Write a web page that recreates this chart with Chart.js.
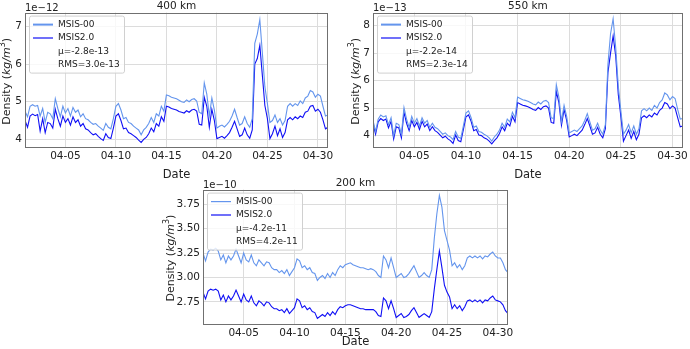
<!DOCTYPE html>
<html>
<head>
<meta charset="utf-8">
<script src="https://cdn.jsdelivr.net/npm/chart.js"></script>
<style>
body { margin: 0; background: #fff; width: 690px; height: 349px; overflow: hidden; position: relative; }
canvas { position: absolute; }
</style>
</head>
<body>
<canvas id="c400" width="340" height="182" style="left:0px;top:0px"></canvas>
<canvas id="c550" width="345" height="182" style="left:345px;top:0px"></canvas>
<canvas id="c200" width="360" height="172" style="left:160px;top:177px"></canvas>
<script>
// samples every 6 hours, starting 04-01 00:00
const stepDays = 0.25;
const xTickDays = [4, 9, 14, 19, 24, 29];
const xTickLabels = ['04-05', '04-10', '04-15', '04-20', '04-25', '04-30'];

// 400 km, units of 1e-12 kg/m3
const msis00_400 = [
    4.75, 4.60, 4.88, 4.92, 4.88, 4.90, 4.62, 4.82,
    4.45, 4.72, 4.68, 4.55, 5.08, 4.82, 4.60, 4.88,
    4.70, 4.82, 4.62, 4.85, 4.72, 4.78, 4.60, 4.68,
    4.55, 4.52, 4.45, 4.40, 4.42, 4.35, 4.30, 4.24,
    4.42, 4.32, 4.28, 4.55, 4.88, 4.95, 4.78, 4.55,
    4.58, 4.45, 4.42, 4.35, 4.30, 4.25, 4.12, 4.25,
    4.32, 4.42, 4.58, 4.45, 4.68, 4.62, 4.88, 4.75,
    5.18, 5.16, 5.12, 5.10, 5.08, 5.04, 5.00, 4.98,
    5.05, 5.00, 5.06, 5.08, 5.02, 4.72, 4.68, 5.50,
    5.20, 4.62, 5.10, 4.78, 4.30, 4.35, 4.38, 4.33,
    4.40, 4.48, 4.62, 4.80, 4.58, 4.38, 4.42, 4.60,
    4.42, 4.32, 4.55, 6.55, 6.80, 7.18, 6.30, 5.40,
    4.95, 4.45, 4.50, 4.65, 4.45, 4.55, 4.38, 4.50,
    4.88, 4.95, 4.88, 4.95, 4.90, 5.02, 4.95, 5.10,
    5.15, 5.30, 5.26, 5.12, 5.20, 5.15, 4.88, 4.62,
    4.65
];
const msis20_400 = [
    4.50, 4.32, 4.62, 4.67, 4.63, 4.66, 4.22, 4.55,
    4.18, 4.45, 4.42, 4.30, 4.80, 4.55, 4.35, 4.62,
    4.45, 4.55, 4.38, 4.60, 4.45, 4.52, 4.35, 4.42,
    4.28, 4.25, 4.18, 4.12, 4.15, 4.08, 4.02, 3.97,
    4.15, 4.05, 4.02, 4.30, 4.62, 4.68, 4.50, 4.28,
    4.30, 4.18, 4.15, 4.10, 4.05, 3.98, 3.92, 4.00,
    4.05, 4.15, 4.30, 4.20, 4.42, 4.35, 4.60, 4.48,
    4.88, 4.86, 4.82, 4.80, 4.78, 4.74, 4.72, 4.70,
    4.76, 4.72, 4.78, 4.80, 4.75, 4.40, 4.38, 5.12,
    4.88, 4.32, 4.80, 4.50, 4.02, 4.05, 4.08, 4.03,
    4.10, 4.18, 4.32, 4.48, 4.28, 4.08, 4.12, 4.30,
    4.12, 4.03, 4.25, 6.00, 6.15, 6.50, 5.70, 4.90,
    4.55, 4.02, 4.15, 4.35, 4.10, 4.28, 4.05, 4.18,
    4.52, 4.58, 4.52, 4.60, 4.55, 4.62, 4.58, 4.72,
    4.75, 4.88, 4.90, 4.75, 4.80, 4.72, 4.52, 4.28,
    4.32
];

// 550 km, units of 1e-13 kg/m3
const msis00_550 = [
    4.55, 4.15, 4.60, 4.75, 4.68, 4.72, 4.40, 4.65,
    4.00, 4.45, 4.40, 4.05, 5.02, 4.60, 4.30, 4.70,
    4.45, 4.62, 4.35, 4.65, 4.45, 4.55, 4.30, 4.45,
    4.30, 4.25, 4.15, 4.05, 4.10, 4.00, 3.95, 3.85,
    4.15, 3.95, 3.90, 4.35, 4.82, 4.90, 4.65, 4.30,
    4.35, 4.15, 4.12, 4.05, 4.00, 3.92, 3.80, 3.95,
    4.05, 4.20, 4.45, 4.30, 4.60, 4.50, 4.85, 4.65,
    5.40, 5.35, 5.30, 5.28, 5.25, 5.20, 5.15, 5.12,
    5.22, 5.15, 5.25, 5.28, 5.20, 4.65, 4.62, 5.85,
    5.40, 4.52, 5.10, 4.70, 4.10, 4.15, 4.20, 4.15,
    4.25, 4.35, 4.55, 4.80, 4.50, 4.20, 4.25, 4.45,
    4.20, 4.05, 4.40, 6.60, 7.70, 8.25, 7.20, 5.80,
    4.90, 4.05, 4.20, 4.40, 4.10, 4.35, 4.05, 4.25,
    4.90, 4.98, 4.90, 5.00, 4.92, 5.10, 5.00, 5.20,
    5.30, 5.55, 5.48, 5.30, 5.42, 5.35, 4.95, 4.60,
    4.62
];
const msis20_550 = [
    4.45, 4.05, 4.50, 4.62, 4.55, 4.60, 4.28, 4.52,
    3.88, 4.32, 4.28, 3.92, 4.85, 4.45, 4.18, 4.55,
    4.32, 4.48, 4.22, 4.52, 4.32, 4.42, 4.18, 4.32,
    4.18, 4.12, 4.02, 3.92, 3.98, 3.88, 3.82, 3.72,
    4.02, 3.82, 3.78, 4.22, 4.68, 4.75, 4.52, 4.18,
    4.22, 4.02, 4.00, 3.92, 3.88, 3.80, 3.70, 3.82,
    3.92, 4.08, 4.32, 4.18, 4.45, 4.35, 4.70, 4.50,
    5.20, 5.15, 5.10, 5.08, 5.05, 5.00, 4.95, 4.92,
    5.02, 4.95, 5.05, 5.08, 5.00, 4.48, 4.45, 5.60,
    5.20, 4.38, 4.95, 4.55, 3.95, 4.00, 4.05, 4.00,
    4.10, 4.20, 4.40, 4.62, 4.35, 4.05, 4.10, 4.30,
    4.05, 3.92, 4.25, 6.30, 7.00, 7.62, 6.90, 5.50,
    4.70, 3.80, 4.00, 4.20, 3.90, 4.15, 3.85, 4.05,
    4.65, 4.72, 4.65, 4.75, 4.68, 4.82, 4.75, 4.92,
    5.00, 5.20, 5.15, 4.98, 5.08, 5.00, 4.65, 4.32,
    4.35
];

// 200 km, units of 1e-10 kg/m3
const msis00_200 = [
    3.25, 3.17, 3.26, 3.29, 3.28, 3.30, 3.27, 3.18,
    3.23, 3.15, 3.22, 3.18, 3.22, 3.29, 3.22, 3.15,
    3.25, 3.18, 3.16, 3.23, 3.15, 3.12, 3.18, 3.15,
    3.12, 3.16, 3.15, 3.10, 3.08, 3.08, 3.05, 3.07,
    3.04, 3.08, 3.02, 3.06, 3.10, 3.19, 3.17, 3.10,
    3.12, 3.08, 3.10, 3.05, 3.04, 2.97, 3.00, 3.02,
    2.99, 3.04, 3.00, 3.05, 3.02, 3.08, 3.12, 3.10,
    3.13, 3.14, 3.15, 3.13, 3.12, 3.11, 3.10, 3.10,
    3.09, 3.08, 3.09, 3.08, 3.06, 3.02, 3.00, 3.22,
    3.18, 3.10, 3.20, 3.10, 3.00, 3.02, 3.04, 3.00,
    3.01, 3.04, 3.08, 3.12, 3.06, 3.00, 3.02, 3.05,
    3.02, 3.00, 3.08, 3.40, 3.65, 3.84, 3.72, 3.48,
    3.38, 3.28, 3.12, 3.15, 3.10, 3.13, 3.08, 3.12,
    3.20, 3.22, 3.20, 3.22, 3.20, 3.22, 3.19, 3.22,
    3.21, 3.24, 3.26, 3.22, 3.20, 3.20, 3.15, 3.08,
    3.05
];
const msis20_200 = [
    2.85, 2.78, 2.86, 2.88, 2.87, 2.88, 2.86, 2.77,
    2.82, 2.75, 2.81, 2.77, 2.81, 2.87, 2.81, 2.75,
    2.83, 2.77, 2.75, 2.81, 2.74, 2.71, 2.76, 2.74,
    2.71, 2.75, 2.74, 2.70, 2.68, 2.68, 2.66, 2.67,
    2.64, 2.68, 2.63, 2.66, 2.69, 2.78, 2.76, 2.69,
    2.71, 2.67, 2.69, 2.65, 2.64, 2.58, 2.60, 2.62,
    2.60, 2.64, 2.61, 2.65, 2.62, 2.67, 2.70, 2.69,
    2.71, 2.72, 2.72, 2.71, 2.70, 2.69, 2.68, 2.68,
    2.67, 2.67, 2.67, 2.67, 2.65, 2.61, 2.60, 2.79,
    2.76, 2.68, 2.76, 2.68, 2.59, 2.61, 2.63, 2.59,
    2.60, 2.62, 2.66, 2.69, 2.64, 2.59, 2.61, 2.63,
    2.61, 2.59, 2.65, 2.88, 3.08, 3.27, 3.10, 2.92,
    2.85, 2.80, 2.68, 2.72, 2.68, 2.71, 2.66, 2.70,
    2.76, 2.77, 2.75, 2.77, 2.75, 2.77, 2.74, 2.77,
    2.76, 2.79, 2.81, 2.77, 2.76, 2.75, 2.72, 2.66,
    2.63
];

const yTicks400 = [4, 5, 6, 7];
const yTicks550 = [4, 5, 6, 7, 8];
const yTicks200 = [2.75, 3.00, 3.25, 3.50, 3.75];

const stats400 = ['μ=-2.8e-13', 'RMS=3.0e-13'];
const stats550 = ['μ=-2.2e-14', 'RMS=2.3e-14'];
const stats200 = ['μ=-4.2e-11', 'RMS=4.2e-11'];

const lightBlue = '#6495ed';
const darkBlue = '#1010f5';
const fontName = '"DejaVu Sans"';

Chart.defaults.font.family = fontName;
Chart.defaults.color = '#222';

function toPoints(values) {
    return values.map(function (v, i) { return {x: i * stepDays, y: v}; });
}

// frame, offset text, y label and the legend box
const decorPlugin = {
    id: 'decor',
    afterDatasetsDraw(chart, args, opts) {
        const ctx = chart.ctx;
        const a = chart.chartArea;
        ctx.save();

        // full frame round the plot
        ctx.strokeStyle = '#707070';
        ctx.lineWidth = 1;
        ctx.strokeRect(Math.round(a.left) + 0.5, Math.round(a.top) + 0.5,
            Math.round(a.right - a.left) - 1, Math.round(a.bottom - a.top) - 1);

        // exponent
        ctx.fillStyle = '#222';
        ctx.font = '10px ' + fontName;
        ctx.textAlign = 'left';
        ctx.textBaseline = 'alphabetic';
        ctx.fillText(opts.exponent, a.left, a.top - 2);

        // y label: Density (kg/m^3)
        const parts = [
            ['Density (', '11px ' + fontName, 0],
            ['kg/m', 'oblique 11px ' + fontName, 0],
            ['3', '8px ' + fontName, -4],
            [')', '11px ' + fontName, 0]
        ];
        let total = 0;
        parts.forEach(function (p) { ctx.font = p[1]; total += ctx.measureText(p[0]).width; });
        ctx.save();
        ctx.translate(a.left + opts.yLabelDx, (a.top + a.bottom) / 2 + opts.yLabelDy);
        ctx.rotate(-Math.PI / 2);
        ctx.textBaseline = 'middle';
        let x = -total / 2;
        parts.forEach(function (p) {
            ctx.font = p[1];
            ctx.fillText(p[0], x, p[2]);
            x += ctx.measureText(p[0]).width;
        });
        ctx.restore();

        // legend
        const bx = a.left + 4, by = a.top + 3, bw = 95, bh = 57;
        ctx.fillStyle = 'rgba(255,255,255,0.8)';
        ctx.strokeStyle = '#d0d0d0';
        ctx.beginPath();
        ctx.roundRect(bx + 0.5, by + 0.5, bw, bh, 2);
        ctx.fill();
        ctx.stroke();

        const rows = [];
        chart.data.datasets.forEach(function (ds) {
            rows.push({text: ds.label, color: ds.borderColor, width: ds.legendWidth});
        });
        opts.stats.forEach(function (s) { rows.push({text: s}); });

        ctx.font = '9px ' + fontName;
        ctx.textBaseline = 'middle';
        rows.forEach(function (r, i) {
            const ry = by + 9 + i * 13.4;
            if (r.color) {
                ctx.strokeStyle = r.color;
                ctx.lineWidth = r.width;
                ctx.beginPath();
                ctx.moveTo(bx + 4, ry);
                ctx.lineTo(bx + 24, ry);
                ctx.stroke();
            }
            ctx.fillStyle = '#222';
            ctx.fillText(r.text, bx + 29, ry);
        });
        ctx.restore();
    }
};

function makeChart(id, title, exponent, light, dark, yMin, yMax, yTicks, yDecimals, yWidth, xHeight, padRight, stats, yLabelDx, lightLegendWidth) {
    new Chart(id, {
        type: 'line',
        data: {
            datasets: [{
                label: 'MSIS-00',
                data: toPoints(light),
                borderColor: lightBlue,
                borderWidth: 1.1,
                legendWidth: lightLegendWidth,
                pointRadius: 0,
                tension: 0
            }, {
                label: 'MSIS2.0',
                data: toPoints(dark),
                borderColor: darkBlue,
                borderWidth: 1.1,
                legendWidth: 1.2,
                pointRadius: 0,
                tension: 0
            }]
        },
        options: {
            responsive: false,
            animation: false,
            events: [],
            layout: {padding: {left: 0, right: padRight, top: 0, bottom: 0}},
            plugins: {
                legend: {display: false},
                tooltip: {enabled: false},
                title: {
                    display: true,
                    text: title,
                    fullSize: false,
                    font: {size: 10.5, weight: 'normal'},
                    color: '#222',
                    padding: {top: 0, bottom: 0}
                },
                decor: {exponent: exponent, stats: stats, yLabelDx: yLabelDx, yLabelDy: 1}
            },
            scales: {
                x: {
                    type: 'linear',
                    min: 0,
                    max: 30,
                    afterBuildTicks: function (axis) {
                        axis.ticks = xTickDays.map(function (d) { return {value: d}; });
                    },
                    afterFit: function (axis) { axis.height = xHeight; },
                    ticks: {
                        font: {size: 10.5},
                        color: '#222',
                        padding: 2,
                        maxRotation: 0,
                        callback: function (value) { return xTickLabels[xTickDays.indexOf(value)]; }
                    },
                    grid: {color: '#dcdcdc', drawTicks: false},
                    border: {display: false},
                    title: {display: true, text: 'Date', font: {size: 11.5}, color: '#222', padding: {top: 0, bottom: 0}}
                },
                y: {
                    min: yMin,
                    max: yMax,
                    afterBuildTicks: function (axis) {
                        axis.ticks = yTicks.map(function (v) { return {value: v}; });
                    },
                    afterFit: function (axis) { axis.width = yWidth; },
                    ticks: {
                        font: {size: 10.5},
                        color: '#222',
                        padding: 3,
                        callback: function (value) { return value.toFixed(yDecimals); }
                    },
                    grid: {color: '#dcdcdc', drawTicks: false},
                    border: {display: false}
                }
            }
        },
        plugins: [decorPlugin]
    });
}

makeChart('c400', '400 km', '1e\u221212', msis00_400, msis20_400, 3.77, 7.37, yTicks400, 0, 25, 34, 12, stats400, -18, 2);
makeChart('c550', '550 km', '1e\u221213', msis00_550, msis20_550, 3.55, 8.47, yTicks550, 0, 28, 34, 2, stats550, -17, 2);
makeChart('c200', '200 km', '1e\u221210', msis00_200, msis20_200, 2.517, 3.90, yTicks200, 2, 43, 24.4, 12, stats200, -32, 1.2);
</script>
</body>
</html>
